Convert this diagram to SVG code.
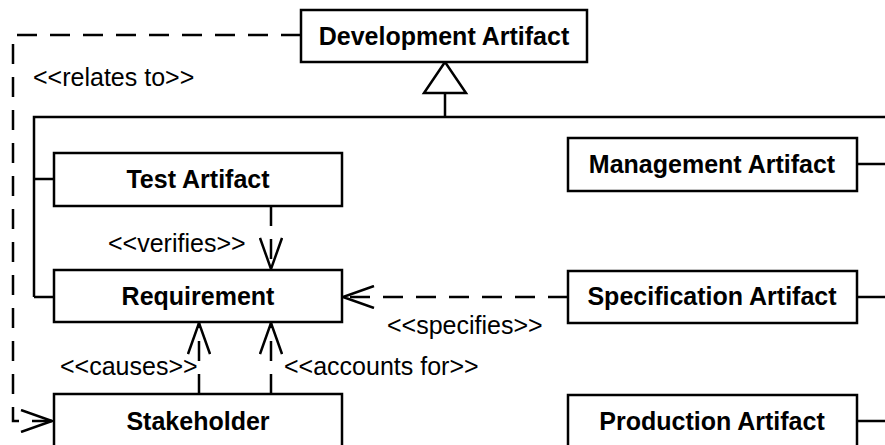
<svg xmlns="http://www.w3.org/2000/svg" width="885" height="445" viewBox="0 0 885 445">
  <style>
    .box { fill: #ffffff; stroke: #000000; stroke-width: 2.5; }
    .name { font-family: "Liberation Sans", Arial, sans-serif; font-size: 25px; font-weight: bold; text-anchor: middle; fill: #000000; }
    .label { font-family: "Liberation Sans", Arial, sans-serif; font-size: 25px; fill: #000000; }
    .line { fill: none; stroke: #000000; stroke-width: 2.5; }
    .dash { fill: none; stroke: #000000; stroke-width: 2.5; stroke-dasharray: 20 13; }
    .head { fill: none; stroke: #000000; stroke-width: 2.5; }
  </style>
  <defs>
    <marker id="open" viewBox="0 0 34 24" refX="33" refY="12" markerWidth="34" markerHeight="24" markerUnits="userSpaceOnUse" orient="auto">
      <path d="M2,1 L33,12 L2,23" fill="none" stroke="#000000" stroke-width="2.5"/>
    </marker>
  </defs>

  <rect width="885" height="445" fill="#ffffff"/>

  <!-- connectors -->
  <g id="connectors">
    <!-- generalization tree -->
    <path class="line" d="M445,93 V117 M34,297 V117 H885 M34,179 H54 M34,297 H54"/>
    <path class="line" d="M857,164 H885 M857,297 H885 M857,421 H885"/>
    <polygon points="445,62 424,93 466,93" fill="#ffffff" stroke="#000000" stroke-width="2.5"/>
    <!-- <<relates to>> -->
    <path class="dash" d="M301,35 H13 V421 H52" marker-end="url(#open)"/>
    <!-- <<verifies>> -->
    <path class="dash" d="M271,206 V269" marker-end="url(#open)"/>
    <!-- <<specifies>> -->
    <path class="dash" d="M568,297 H343" marker-end="url(#open)"/>
    <!-- <<causes>> and <<accounts for>> -->
    <path class="dash" d="M199,394 V323" marker-end="url(#open)"/>
    <path class="dash" d="M271,394 V323" marker-end="url(#open)"/>
    <text class="label" x="33" y="86">&lt;&lt;relates to&gt;&gt;</text>
    <text class="label" x="108" y="252">&lt;&lt;verifies&gt;&gt;</text>
    <text class="label" x="387" y="334">&lt;&lt;specifies&gt;&gt;</text>
    <text class="label" x="60" y="375">&lt;&lt;causes&gt;&gt;</text>
    <text class="label" x="284" y="375">&lt;&lt;accounts for&gt;&gt;</text>
  </g>

  <g id="development-artifact">
    <rect class="box" x="301" y="10" width="286" height="52"/>
    <text class="name" x="444" y="45">Development Artifact</text>
  </g>
  <g id="test-artifact">
    <rect class="box" x="54" y="153" width="288" height="53"/>
    <text class="name" x="198" y="188">Test Artifact</text>
  </g>
  <g id="requirement">
    <rect class="box" x="54" y="270" width="288" height="52"/>
    <text class="name" x="198" y="305">Requirement</text>
  </g>
  <g id="stakeholder">
    <rect class="box" x="54" y="394" width="288" height="60"/>
    <text class="name" x="198" y="430">Stakeholder</text>
  </g>
  <g id="management-artifact">
    <rect class="box" x="568" y="138" width="289" height="53"/>
    <text class="name" x="712" y="173">Management Artifact</text>
  </g>
  <g id="specification-artifact">
    <rect class="box" x="568" y="271" width="289" height="52"/>
    <text class="name" x="712" y="305">Specification Artifact</text>
  </g>
  <g id="production-artifact">
    <rect class="box" x="568" y="395" width="289" height="60"/>
    <text class="name" x="712" y="430">Production Artifact</text>
  </g>
</svg>
